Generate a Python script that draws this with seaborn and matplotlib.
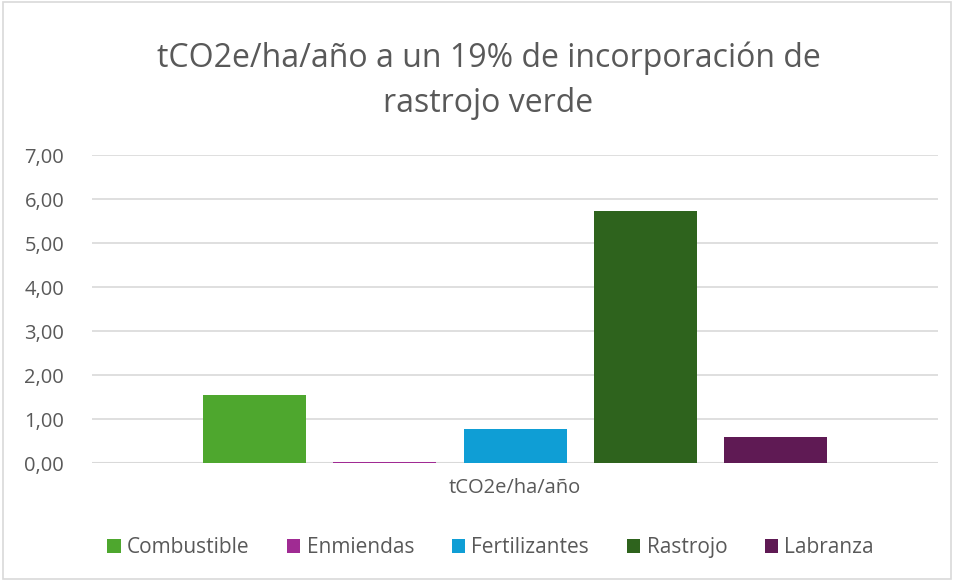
import matplotlib
matplotlib.use("Agg")
import matplotlib.pyplot as plt
import seaborn as sns
import pandas as pd
from matplotlib.patches import Rectangle

categories = ["Combustible", "Enmiendas", "Fertilizantes", "Rastrojo", "Labranza"]
values = [1.55, 0.03, 0.77, 5.72, 0.59]
colors = ["#4EA72E", "#A02B93", "#0F9ED5", "#2E631D", "#5F1A54"]
x_label = "tCO2e/ha/año"
yticks = [0, 1, 2, 3, 4, 5, 6, 7]
title = "tCO2e/ha/año a un 19% de incorporación de\nrastrojo verde"

sns.set_theme(style="white")
plt.rcParams['font.family'] = ['Open Sans', 'DejaVu Sans']

df = pd.DataFrame({"x": [x_label] * len(categories), "serie": categories, "valor": values})

fig = plt.figure(figsize=(9.54, 5.81), dpi=100)
ax = fig.add_axes([0.0964, 0.203, 0.887, 0.530])

sns.barplot(data=df, x="x", y="valor", hue="serie", hue_order=categories,
            palette=colors, width=0.77, ax=ax, legend=True, saturation=1,
            linewidth=0)

# shrink bars to leave gaps between them
for p in ax.patches:
    w = p.get_width()
    if w <= 0:
        continue
    nw = w * 0.79
    p.set_x(p.get_x() + (w - nw) / 2)
    p.set_width(nw)
    p.set_zorder(3)

ax.set_xlim(-0.5, 0.5)
ax.set_ylim(0, 7)
ax.set_yticks(yticks)
ax.set_yticklabels([f"{t:.2f}".replace(".", ",") for t in yticks], fontsize=14.5, color="#595959")
ax.tick_params(axis="x", labelsize=14.5, colors="#595959", pad=11, length=0)
ax.tick_params(axis="y", length=0, pad=20)
ax.set_xlabel("")
ax.set_ylabel("")
for s in ax.spines.values():
    s.set_visible(False)
ax.yaxis.grid(True, color="#D9D9D9", linewidth=1.2)
ax.set_axisbelow(True)
ax.axhline(0, color="#D9D9D9", linewidth=1.5, zorder=2)

leg = ax.legend(loc="center", bbox_to_anchor=(0.471, -0.275), ncol=5, frameon=False,
                fontsize=15, handlelength=0.65, handleheight=0.65, columnspacing=1.8,
                handletextpad=0.3, labelcolor="#595959")

fig.text(0.512, 0.861, title, ha="center", va="center", fontsize=23, color="#595959",
         linespacing=1.45)

fig.patches.append(Rectangle((0.003, 0.004), 0.994, 0.992, transform=fig.transFigure,
                             fill=False, edgecolor="#D9D9D9", linewidth=1.2))

fig.savefig("out.png", dpi=100)
